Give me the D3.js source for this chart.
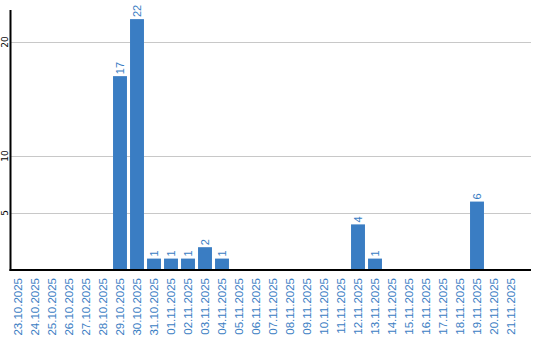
<!DOCTYPE html>
<meta charset="utf-8">
<style>
body { margin: 0; background: #fff; }
.bar { fill: #3a7dc3; }
.grid line { stroke: #c8c8c8; }
</style>
<body>
<script src="https://cdn.jsdelivr.net/npm/d3@7/dist/d3.min.js"></script>
<script>

// dates shown on the x axis
var dates = ["23.10.2025", "24.10.2025", "25.10.2025", "26.10.2025", "27.10.2025",
    "28.10.2025", "29.10.2025", "30.10.2025", "31.10.2025", "01.11.2025",
    "02.11.2025", "03.11.2025", "04.11.2025", "05.11.2025", "06.11.2025",
    "07.11.2025", "08.11.2025", "09.11.2025", "10.11.2025", "11.11.2025",
    "12.11.2025", "13.11.2025", "14.11.2025", "15.11.2025", "16.11.2025",
    "17.11.2025", "18.11.2025", "19.11.2025", "20.11.2025", "21.11.2025"];
// count per day
var counts = [0, 0, 0, 0, 0, 0, 17, 22, 1, 1, 1, 2, 1, 0, 0,
    0, 0, 0, 0, 0, 4, 1, 0, 0, 0, 0, 0, 6, 0, 0];
var yTicks = [5, 10, 20];

var width = 540, height = 340;
var m = {left: 10.5, bottom: 270, top: 10, right: 531};

var svg = d3.select("body").append("svg")
    .attr("width", width)
    .attr("height", height);

var x = d3.scaleBand()
    .domain(dates)
    .range([9.5, 519.5])
    .paddingInner(0.18)
    .paddingOuter(0.09);

var y = d3.scaleLinear()
    .domain([0, 22.8])
    .range([m.bottom, m.top]);

// grid lines
svg.append("g")
    .attr("class", "grid")
    .selectAll("line")
    .data(yTicks)
    .enter().append("line")
    .attr("x1", m.left)
    .attr("x2", m.right)
    .attr("y1", function (d) { return Math.round(y(d)) + 0.5; })
    .attr("y2", function (d) { return Math.round(y(d)) + 0.5; });

// only days with a count get a bar
var nonzero = dates.map(function (d, i) { return {date: d, v: counts[i]}; })
    .filter(function (d) { return d.v > 0; });

svg.selectAll(".bar")
    .data(nonzero)
    .enter().append("rect")
    .attr("class", "bar")
    .attr("x", function (d) { return x(d.date); })
    .attr("width", x.bandwidth())
    .attr("y", function (d) { return y(d.v); })
    .attr("height", function (d) { return m.bottom - y(d.v); });

// value labels
svg.selectAll(".val")
    .data(nonzero)
    .enter().append("text")
    .attr("class", "val")
    .attr("transform", function (d) {
        return "translate(" + (x(d.date) + x.bandwidth() / 2) + "," + (y(d.v) - 2) + ") rotate(-90)";
    })
    .attr("dy", "0.35em")
    .attr("font-family", "Liberation Sans, Arial, sans-serif")
    .attr("font-size", 11)
    .attr("fill", "#3a7dc3")
    .text(function (d) { return d.v; });

// x labels
svg.selectAll(".xlab")
    .data(dates)
    .enter().append("text")
    .attr("class", "xlab")
    .attr("transform", function (d) {
        return "translate(" + (x(d) + x.bandwidth() / 2) + "," + 278 + ") rotate(-90)";
    })
    .attr("dy", "0.35em")
    .attr("text-anchor", "end")
    .attr("font-family", "Liberation Sans, Arial, sans-serif")
    .attr("font-size", 11.5)
    .attr("fill", "#3a7dc3")
    .text(function (d) { return d; });

// y tick labels
svg.selectAll(".ylab")
    .data(yTicks)
    .enter().append("text")
    .attr("class", "ylab")
    .attr("transform", function (d) {
        return "translate(4.5," + y(d) + ") rotate(-90)";
    })
    .attr("dy", "0.35em")
    .attr("text-anchor", "middle")
    .attr("font-family", "DejaVu Sans, sans-serif")
    .attr("font-size", 9)
    .attr("fill", "#000")
    .text(function (d) { return d; });

// axis lines
svg.append("line")
    .attr("x1", m.left).attr("x2", m.left)
    .attr("y1", m.top).attr("y2", m.bottom + 1)
    .attr("stroke", "#000").attr("stroke-width", 2);
svg.append("line")
    .attr("x1", m.left - 1).attr("x2", m.right)
    .attr("y1", m.bottom).attr("y2", m.bottom)
    .attr("stroke", "#000").attr("stroke-width", 2);

</script>
</body>
